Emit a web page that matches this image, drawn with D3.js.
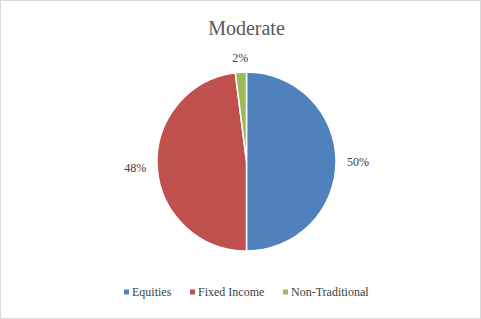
<!DOCTYPE html>
<html>
<head>
<meta charset="utf-8">
<script src="https://cdn.jsdelivr.net/npm/d3@7"></script>
<style>
  html, body { margin: 0; padding: 0; background: #fff; }
  svg { display: block; }
</style>
</head>
<body>
<div id="chart"></div>
<script>
// dados do grafico
const categories = ["Equities", "Fixed Income", "Non-Traditional"];
const values = [50, 48, 2];
const colors = ["#4F81BD", "#C0504D", "#9BBB59"];
const title = "Moderate";

const width = 481, height = 319;
const cx = 246.5, cy = 161.5, r = 89.5;
const fontFam = "'Liberation Serif', 'DejaVu Serif', serif";

const svg = d3.select("#chart").append("svg")
  .attr("width", width)
  .attr("height", height);

// borda externa
svg.append("rect")
  .attr("x", 0.5).attr("y", 0.5)
  .attr("width", width - 1).attr("height", height - 1)
  .attr("fill", "#fff")
  .attr("stroke", "#d9d9d9");

// titulo
svg.append("text")
  .attr("x", cx).attr("y", 35)
  .attr("text-anchor", "middle")
  .attr("fill", "#595959")
  .attr("font-family", fontFam)
  .attr("font-size", "20px")
  .text(title);

const data = categories.map((c, i) => ({ name: c, value: values[i], color: colors[i] }));
const pie = d3.pie().sort(null).value(d => d.value);
const arcs = pie(data);
const arc = d3.arc().innerRadius(0).outerRadius(r);

const g = svg.append("g").attr("transform", `translate(${cx},${cy})`);

g.selectAll("path")
  .data(arcs)
  .join("path")
  .attr("d", arc)
  .attr("fill", d => d.data.color)
  .attr("stroke", "#fff")
  .attr("stroke-width", 1.5);

// rotulos de porcentagem (fora da fatia)
const total = d3.sum(values);
g.selectAll("text.lbl")
  .data(arcs)
  .join("text")
  .attr("class", "lbl")
  .each(function (d) {
    const a = (d.startAngle + d.endAngle) / 2;
    const s = Math.sin(a), c = -Math.cos(a);
    const rr = r + 11;
    let anchor = "middle";
    if (s > 0.3) anchor = "start";
    else if (s < -0.3) anchor = "end";
    let dy = "0.35em";
    if (c < -0.7) dy = "0.05em";
    d3.select(this)
      .attr("x", s * rr).attr("y", c * rr).attr("dy", dy)
      .attr("text-anchor", anchor);
  })
  .attr("fill", "#404040")
  .attr("font-family", fontFam)
  .attr("font-size", "12px")
  .text(d => Math.round(d.data.value / total * 100) + "%");

// legenda
const legendX = [124, 190, 283];
const leg = svg.append("g");
const items = leg.selectAll("g")
  .data(data)
  .join("g")
  .attr("transform", (d, i) => `translate(${legendX[i]},292)`);
items.append("rect")
  .attr("x", 0).attr("y", -2.5)
  .attr("width", 5).attr("height", 5)
  .attr("fill", d => d.color);
items.append("text")
  .attr("x", 8).attr("y", 0).attr("dy", "0.35em")
  .attr("fill", "#404040")
  .attr("font-family", fontFam)
  .attr("font-size", "12px")
  .text(d => d.name);
</script>
</body>
</html>
